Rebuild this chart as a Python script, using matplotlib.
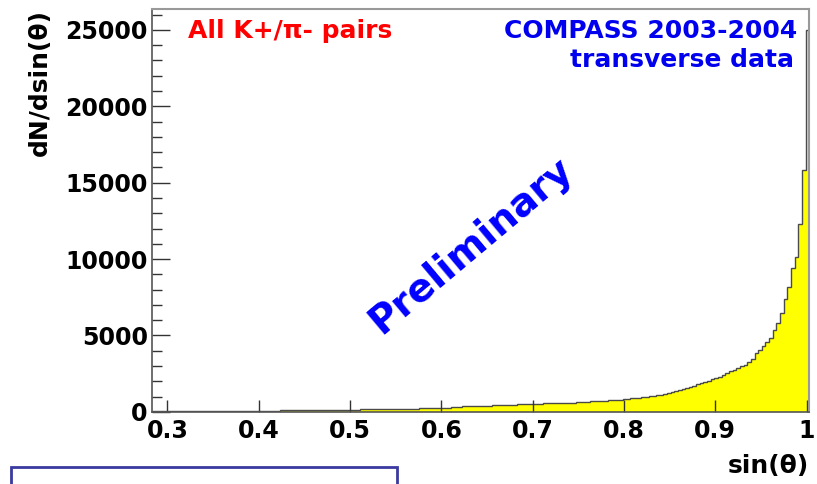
import matplotlib
matplotlib.use('Agg')
import matplotlib.pyplot as plt
import numpy as np
from matplotlib.patches import Rectangle
from matplotlib.ticker import MultipleLocator

plt.rcParams['font.family'] = ['DejaVu Sans']
plt.rcParams['font.weight'] = 'bold'

# sin(theta) binning: 180 bins of 0.004 over the frame range
bin_lo = 0.283
bin_hi = 1.003
n_bins = 180

# entries per bin, low sin(theta) first
counts = [
    30, 32, 35, 33, 38, 40, 38, 42, 44, 41,
    45, 47, 44, 49, 50, 52, 55, 53, 58, 60,
    57, 62, 65, 63, 68, 70, 72, 69, 75, 78,
    80, 84, 82, 88, 90, 93, 97, 95, 100, 104,
    108, 112, 106, 118, 120, 124, 128, 122, 132, 135,
    138, 142, 140, 146, 150, 152, 156, 160, 163, 167,
    170, 172, 175, 178, 182, 180, 188, 195, 200, 205,
    205, 212, 218, 224, 230, 235, 242, 250, 255, 260,
    265, 285, 305, 325, 345, 365, 372, 378, 384, 390,
    395, 402, 410, 418, 428, 435, 445, 458, 468, 480,
    490, 505, 515, 525, 535, 540, 548, 555, 560, 565,
    570, 580, 590, 598, 605, 610, 625, 640, 652, 665,
    680, 695, 710, 725, 742, 760, 775, 790, 805, 825,
    850, 880, 910, 940, 970, 1000, 1030, 1060, 1095, 1130,
    1200, 1260, 1320, 1380, 1430, 1500, 1580, 1650, 1720, 1800,
    1880, 1960, 2040, 2130, 2220, 2300, 2400, 2550, 2650, 2750,
    2880, 3000, 3100, 3250, 3450, 3840, 4080, 4300, 4580, 4840,
    5350, 5800, 6460, 7400, 8200, 9400, 10150, 12290, 15830, 25000,
]

x_ticks = [0.3, 0.4, 0.5, 0.6, 0.7, 0.8, 0.9, 1.0]
x_tick_labels = ['0.3', '0.4', '0.5', '0.6', '0.7', '0.8', '0.9', '1']
y_ticks = [0, 5000, 10000, 15000, 20000, 25000]


def main():
    edges = np.linspace(bin_lo, bin_hi, n_bins + 1)

    fig = plt.figure(figsize=(8.17, 4.84), dpi=100)
    ax = fig.add_axes([0.186, 0.149, 0.8046, 0.8318])

    ax.stairs(counts, edges, fill=True, color='#ffff00')
    ax.stairs(counts, edges, color='#4a4a4a', linewidth=1.0)

    ax.set_xlim(bin_lo, bin_hi)
    ax.set_ylim(0, 26350)

    ax.set_xticks(x_ticks)
    ax.set_xticklabels(x_tick_labels)
    ax.set_yticks(y_ticks)
    ax.yaxis.set_minor_locator(MultipleLocator(1000))

    ax.tick_params(axis='both', which='both', direction='in', colors='#333333',
                   labelcolor='black', labelsize=17, width=1.0)
    ax.tick_params(axis='x', which='major', length=9, pad=5)
    ax.tick_params(axis='y', which='major', length=13, pad=3)
    ax.tick_params(axis='y', which='minor', length=7)
    for lbl in ax.get_xticklabels() + ax.get_yticklabels():
        lbl.set_fontweight('bold')

    for side in ['left', 'bottom']:
        ax.spines[side].set_color('#555555')
        ax.spines[side].set_linewidth(1.2)
    for side in ['right', 'top']:
        ax.spines[side].set_color('#999999')
        ax.spines[side].set_linewidth(1.5)

    ax.set_ylabel('dN/dsin(θ)', fontsize=18, fontweight='bold', loc='top')
    ax.yaxis.set_label_coords(-0.152, 1.0)
    ax.set_xlabel('sin(θ)', fontsize=18, fontweight='bold', loc='right')
    ax.xaxis.set_label_coords(1.0, -0.105)

    ax.text(0.055, 0.975, 'All K+/π- pairs', transform=ax.transAxes,
            color='#ff0000', fontsize=18, fontweight='bold', ha='left', va='top')
    ax.text(0.982, 0.975, 'COMPASS 2003-2004', transform=ax.transAxes,
            color='#0000ee', fontsize=18, fontweight='bold', ha='right', va='top')
    ax.text(0.977, 0.905, 'transverse data', transform=ax.transAxes,
            color='#0000ee', fontsize=18, fontweight='bold', ha='right', va='top')
    ax.text(0.485, 0.415, 'Preliminary', transform=ax.transAxes,
            color='#0000ff', fontsize=28, fontweight='bold', rotation=40,
            ha='center', va='center', rotation_mode='anchor')

    # outlined box below the plot, partly off the bottom edge
    box = Rectangle((11 / 817, -0.05), (397 - 11) / 817, (484 - 467) / 484 + 0.05,
                    transform=fig.transFigure, fill=False,
                    edgecolor='#3a3aa0', linewidth=2.0, clip_on=False)
    fig.patches.append(box)

    fig.savefig('out.png', dpi=100)


if __name__ == '__main__':
    main()
